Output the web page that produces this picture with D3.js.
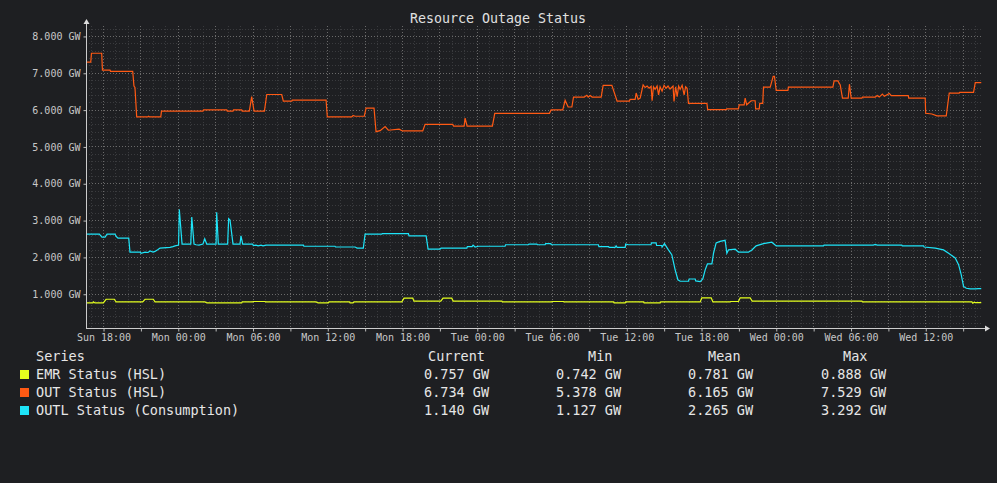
<!DOCTYPE html>
<html>
<head>
  <meta charset="UTF-8">
  <style>
    body { margin: 0; background: #1e1f22; }
    svg { display: block; font-family: "DejaVu Sans Mono", monospace; }
    .tick-label { font-size: 10px; fill: #c8c8c8; font-family: "DejaVu Sans Mono", monospace; }
    .legend { font-size: 13.5px; fill: #e6e6e6; }
  </style>
</head>
<body>

<svg></svg>
<script src="https://d3js.org/d3.v7.min.js"></script>

<script>

// values: [hours since window start, GW]
let outStatus = [
  [0.06, 7.29], [0.38, 7.29], [0.44, 7.53], [1.26, 7.53], [1.32, 7.07], [1.93, 7.07], [1.97, 7.04],
  [3.75, 7.04], [3.85, 6.64], [3.93, 6.60], [4.07, 5.80], [4.98, 5.80], [5.02, 5.82], [5.14, 5.80],
  [6.00, 5.80], [6.06, 5.96], [9.39, 5.96], [9.43, 5.99], [11.30, 5.99], [11.34, 5.96], [11.80, 5.96],
  [11.84, 5.99], [12.50, 5.99], [12.54, 5.96], [13.11, 5.96], [13.30, 6.35], [13.49, 5.96], [14.32, 5.96],
  [14.51, 6.41], [15.71, 6.41], [15.84, 6.23], [16.52, 6.23], [16.56, 6.26], [19.27, 6.26], [19.37, 5.80],
  [21.33, 5.80], [21.44, 5.84], [21.60, 5.82], [22.34, 5.82], [22.48, 6.04], [23.12, 6.04], [23.28, 5.40],
  [23.61, 5.43], [24.01, 5.54], [24.27, 5.44], [25.13, 5.47], [25.40, 5.42], [27.03, 5.42], [27.22, 5.60],
  [29.44, 5.60], [29.51, 5.55], [30.35, 5.55], [30.43, 5.77], [30.59, 5.55], [32.62, 5.55], [32.81, 5.90],
  [37.20, 5.90], [37.33, 5.99], [38.27, 5.99], [38.46, 6.25], [38.70, 6.07], [39.00, 6.07], [39.13, 6.34],
  [39.99, 6.34], [40.20, 6.39], [40.31, 6.34], [40.47, 6.38], [40.63, 6.34], [41.35, 6.34], [41.51, 6.66],
  [42.21, 6.66], [42.63, 6.23], [43.62, 6.23], [43.67, 6.28], [44.08, 6.28], [44.16, 6.45], [44.32, 6.28],
  [44.48, 6.31], [44.72, 6.67], [44.88, 6.60], [45.04, 6.64], [45.20, 6.58], [45.36, 6.63], [45.44, 6.24],
  [45.55, 6.62], [45.68, 6.55], [45.84, 6.64], [45.96, 6.40], [46.08, 6.62], [46.24, 6.50], [46.40, 6.66],
  [46.56, 6.58], [46.72, 6.64], [46.88, 6.56], [47.12, 6.64], [47.20, 6.22], [47.33, 6.62], [47.45, 6.35],
  [47.57, 6.64], [47.69, 6.55], [47.85, 6.66], [48.01, 6.40], [48.13, 6.62], [48.25, 6.58], [48.36, 6.17],
  [49.84, 6.17], [49.90, 6.00], [51.39, 6.00], [51.43, 6.02], [52.37, 6.02], [52.43, 6.13], [52.83, 6.13],
  [52.91, 6.31], [53.03, 6.13], [53.39, 6.24], [53.71, 6.24], [53.75, 6.02], [54.04, 6.02], [54.08, 6.17],
  [54.32, 6.17], [54.38, 6.61], [54.92, 6.61], [55.16, 6.90], [55.26, 6.90], [55.40, 6.52], [56.34, 6.52],
  [56.38, 6.61], [59.95, 6.61], [60.05, 6.78], [60.35, 6.78], [60.54, 6.67], [60.72, 6.31], [61.18, 6.31],
  [61.28, 6.69], [61.42, 6.31], [62.28, 6.31], [62.33, 6.34], [63.35, 6.34], [63.51, 6.38], [63.67, 6.34],
  [63.92, 6.42], [64.08, 6.36], [64.48, 6.44], [64.64, 6.38], [66.00, 6.38], [66.04, 6.31], [67.36, 6.31],
  [67.40, 5.90], [67.90, 5.88], [68.30, 5.83], [69.05, 5.83], [69.29, 6.45], [70.09, 6.45], [70.13, 6.47],
  [71.24, 6.47], [71.38, 6.734], [71.86, 6.734]
];

let outlStatus = [
  [0.06, 2.62], [1.07, 2.62], [1.28, 2.54], [1.53, 2.54], [1.69, 2.62], [2.33, 2.62], [2.41, 2.56],
  [2.57, 2.51], [3.43, 2.51], [3.53, 2.13], [4.34, 2.13], [4.42, 2.10], [4.74, 2.13], [4.98, 2.12],
  [5.14, 2.16], [5.38, 2.13], [5.54, 2.15], [5.78, 2.20], [5.94, 2.24], [6.74, 2.26], [6.98, 2.28],
  [7.15, 2.30], [7.43, 2.32], [7.49, 3.29], [7.71, 2.35], [8.41, 2.35], [8.49, 3.08], [8.67, 2.35],
  [8.83, 2.33], [9.07, 2.32], [9.39, 2.35], [9.53, 2.49], [9.69, 2.35], [10.44, 2.35], [10.49, 3.21],
  [10.62, 2.35], [11.37, 2.35], [11.45, 3.04], [11.56, 3.00], [11.80, 2.35], [12.36, 2.35], [12.44, 2.57],
  [12.58, 2.35], [13.38, 2.35], [13.43, 2.31], [13.65, 2.32], [13.81, 2.30], [14.05, 2.32], [14.21, 2.30],
  [14.45, 2.32], [17.45, 2.32], [17.49, 2.29], [19.99, 2.29], [20.03, 2.27], [21.60, 2.27], [21.76, 2.24],
  [22.26, 2.24], [22.40, 2.62], [23.74, 2.62], [23.78, 2.63], [25.88, 2.63], [25.93, 2.57], [27.30, 2.57],
  [27.46, 2.21], [28.42, 2.21], [28.50, 2.24], [30.57, 2.24], [30.61, 2.28], [30.99, 2.28], [31.07, 2.32],
  [31.23, 2.27], [31.50, 2.29], [33.64, 2.29], [33.68, 2.33], [35.51, 2.33], [35.55, 2.35], [36.19, 2.35],
  [36.23, 2.33], [36.85, 2.33], [36.89, 2.36], [37.31, 2.36], [37.35, 2.33], [41.13, 2.33], [41.17, 2.28],
  [41.94, 2.28], [41.99, 2.26], [42.47, 2.26], [42.55, 2.30], [42.63, 2.26], [43.28, 2.26], [43.32, 2.35],
  [43.52, 2.33], [45.34, 2.33], [45.40, 2.38], [45.76, 2.38], [45.80, 2.31], [46.21, 2.31], [46.24, 2.27],
  [46.43, 2.36], [46.75, 2.19], [47.02, 2.06], [47.29, 1.65], [47.51, 1.38], [47.69, 1.34], [48.36, 1.34],
  [48.41, 1.40], [48.90, 1.40], [48.94, 1.35], [49.30, 1.33], [49.51, 1.40], [49.70, 1.65], [49.88, 1.81],
  [50.24, 1.81], [50.37, 2.10], [50.58, 2.38], [50.90, 2.42], [51.30, 2.45], [51.44, 2.10], [51.57, 2.19],
  [52.11, 2.21], [52.37, 2.13], [53.17, 2.13], [53.45, 2.19], [53.79, 2.30], [54.38, 2.36], [55.05, 2.40],
  [55.40, 2.30], [59.20, 2.30], [59.24, 2.32], [63.19, 2.32], [63.35, 2.34], [63.51, 2.32], [65.48, 2.32],
  [65.52, 2.30], [67.23, 2.30], [67.27, 2.27], [68.17, 2.24], [68.83, 2.19], [69.24, 2.10], [69.77, 1.97],
  [70.04, 1.79], [70.25, 1.52], [70.44, 1.20], [70.66, 1.15], [70.98, 1.13], [71.38, 1.13], [71.62, 1.14],
  [71.86, 1.14]
];

let emrStatus = [
  [0.06, 0.75], [0.56, 0.75], [0.60, 0.78], [0.72, 0.75], [1.39, 0.75], [1.61, 0.85], [2.27, 0.85],
  [2.41, 0.78], [4.55, 0.78], [4.74, 0.85], [5.40, 0.85], [5.54, 0.78], [9.55, 0.78], [9.71, 0.75],
  [12.50, 0.75], [12.54, 0.78], [13.38, 0.78], [13.42, 0.79], [14.37, 0.79], [14.41, 0.78], [18.47, 0.78],
  [18.63, 0.75], [19.45, 0.75], [19.51, 0.78], [21.14, 0.78], [21.20, 0.75], [21.44, 0.75], [21.52, 0.78],
  [25.35, 0.78], [25.53, 0.88], [26.23, 0.88], [26.33, 0.80], [28.48, 0.80], [28.66, 0.88], [29.36, 0.88],
  [29.47, 0.80], [33.38, 0.80], [33.42, 0.78], [37.38, 0.78], [37.42, 0.79], [38.32, 0.79], [38.36, 0.78],
  [42.34, 0.78], [42.39, 0.75], [43.28, 0.75], [43.32, 0.78], [44.75, 0.78], [44.80, 0.75], [46.09, 0.75],
  [46.13, 0.78], [49.30, 0.78], [49.43, 0.89], [50.18, 0.89], [50.32, 0.78], [51.71, 0.78], [51.75, 0.79],
  [52.37, 0.79], [52.51, 0.89], [53.31, 0.89], [53.47, 0.80], [62.28, 0.80], [62.32, 0.78], [71.11, 0.78],
  [71.18, 0.742], [71.30, 0.77], [71.38, 0.757], [71.86, 0.757]
];

let seriesNames = ["EMR Status (HSL)", "OUT Status (HSL)", "OUTL Status (Consumption)"];
let seriesColors = ["#e4ff1e", "#ff5a14", "#1ee4f8"];
let statHeaders = ["Current", "Min", "Mean", "Max"];
let statCurrent = ["0.757 GW", "6.734 GW", "1.140 GW"];
let statMin = ["0.742 GW", "5.378 GW", "1.127 GW"];
let statMean = ["0.781 GW", "6.165 GW", "2.265 GW"];
let statMax = ["0.888 GW", "7.529 GW", "3.292 GW"];

let width = 997, height = 483;
let plotLeft = 86, plotRight = 983, plotTop = 26, plotBottom = 328;

let svg = d3.select("svg")
    .attr("width", width)
    .attr("height", height);

// 72 hour window, Sun 16:38 -> Wed 16:38
let start = Date.UTC(2024, 0, 7, 16, 38);
let end = start + 72 * 3600e3;
let toDate = h => new Date(start + h * 3600e3);

let x = d3.scaleUtc().domain([start, end]).range([plotLeft, plotRight]);
let y = d3.scaleLinear().domain([0.07, 8.27]).range([plotBottom, plotTop]);

// grid
let grid = svg.append("g");
grid.selectAll(".vminor")
    .data(d3.utcHour.every(1).range(new Date(start), new Date(end)))
    .enter().append("line")
    .attr("x1", d => Math.round(x(d)) + 0.5).attr("x2", d => Math.round(x(d)) + 0.5)
    .attr("y1", plotTop).attr("y2", plotBottom)
    .attr("stroke", "#3a3b3e").attr("stroke-dasharray", "1,2");
grid.selectAll(".hminor")
    .data(d3.range(1, 42).map(i => i * 0.2))
    .enter().append("line")
    .attr("x1", plotLeft).attr("x2", plotRight)
    .attr("y1", d => Math.round(y(d)) + 0.5).attr("y2", d => Math.round(y(d)) + 0.5)
    .attr("stroke", "#3a3b3e").attr("stroke-dasharray", "1,2");
grid.selectAll(".vmajor")
    .data(d3.utcHour.every(3).range(new Date(start), new Date(end)))
    .enter().append("line")
    .attr("x1", d => Math.round(x(d)) + 0.5).attr("x2", d => Math.round(x(d)) + 0.5)
    .attr("y1", plotTop).attr("y2", plotBottom)
    .attr("stroke", "#6a6a6a").attr("stroke-dasharray", "1,2");
grid.selectAll(".hmajor")
    .data(d3.range(1, 9))
    .enter().append("line")
    .attr("x1", plotLeft).attr("x2", plotRight)
    .attr("y1", d => Math.round(y(d)) + 0.5).attr("y2", d => Math.round(y(d)) + 0.5)
    .attr("stroke", "#6a6a6a").attr("stroke-dasharray", "1,2");

// series lines
let line = d3.line()
    .x(d => x(toDate(d[0])))
    .y(d => y(d[1]));

[[outStatus, 1], [outlStatus, 2], [emrStatus, 0]].forEach(s => {
  svg.append("path")
      .datum(s[0])
      .attr("d", line)
      .attr("fill", "none")
      .attr("stroke", seriesColors[s[1]])
      .attr("stroke-width", 1.2);
});

// axes
let xAxis = d3.axisBottom(x)
    .ticks(d3.utcHour.every(3))
    .tickSize(3)
    .tickFormat(d => d.getUTCHours() % 6 == 0 ? d3.utcFormat("%a %H:%M")(d) : "");
let xg = svg.append("g")
    .attr("transform", `translate(0.5, ${plotBottom + 0.5})`)
    .call(xAxis)
    .attr("font-family", null)
    .attr("font-size", null);
xg.select(".domain").remove();
xg.selectAll("line").attr("stroke", "#bbb");
xg.selectAll("text").attr("class", "tick-label").attr("dy", "0.55em").attr("y", 7);

let yAxis = d3.axisLeft(y)
    .tickValues(d3.range(1, 9))
    .tickSize(3)
    .tickFormat(d => d3.format(".3f")(d) + " GW");
let yg = svg.append("g")
    .attr("transform", `translate(${plotLeft + 0.5}, 0.5)`)
    .call(yAxis)
    .attr("font-family", null)
    .attr("font-size", null);
yg.select(".domain").remove();
yg.selectAll("line").attr("stroke", "#bbb");
yg.selectAll("text").attr("class", "tick-label").attr("x", -6);

svg.append("line")
    .attr("x1", plotLeft + 0.5).attr("x2", plotLeft + 0.5)
    .attr("y1", plotBottom + 1).attr("y2", 22)
    .attr("stroke", "#ccc");
svg.append("path")
    .attr("d", `M${plotLeft - 2.5},24 L${plotLeft + 3.5},24 L${plotLeft + 0.5},19 Z`)
    .attr("fill", "#ddd");
svg.append("line")
    .attr("x1", plotLeft).attr("x2", 986)
    .attr("y1", plotBottom + 0.5).attr("y2", plotBottom + 0.5)
    .attr("stroke", "#ccc");
svg.append("path")
    .attr("d", `M985,${plotBottom - 2.5} L985,${plotBottom + 3.5} L990,${plotBottom + 0.5} Z`)
    .attr("fill", "#ddd");

// title
svg.append("text")
    .attr("x", 498).attr("y", 23)
    .attr("text-anchor", "middle")
    .style("font-size", "13.3px")
    .style("fill", "#e0e0e0")
    .text("Resource Outage Status");

// legend table
let legend = svg.append("g").attr("class", "legend");
legend.append("text").attr("x", 36).attr("y", 361).text("Series");
let headerX = [428, 588, 708, 843];
let valueX = [424, 556, 688, 821];
let columns = [statCurrent, statMin, statMean, statMax];
statHeaders.forEach((h, i) => {
  legend.append("text").attr("x", headerX[i]).attr("y", 361).text(h);
});
seriesNames.forEach((name, r) => {
  let rowY = 379 + r * 18;
  legend.append("rect")
      .attr("x", 20).attr("y", rowY - 9)
      .attr("width", 9).attr("height", 9)
      .attr("fill", seriesColors[r]);
  legend.append("text").attr("x", 36).attr("y", rowY).text(name);
  columns.forEach((col, i) => {
    legend.append("text").attr("x", valueX[i]).attr("y", rowY).text(col[r]);
  });
});

</script>

</body>
</html>
